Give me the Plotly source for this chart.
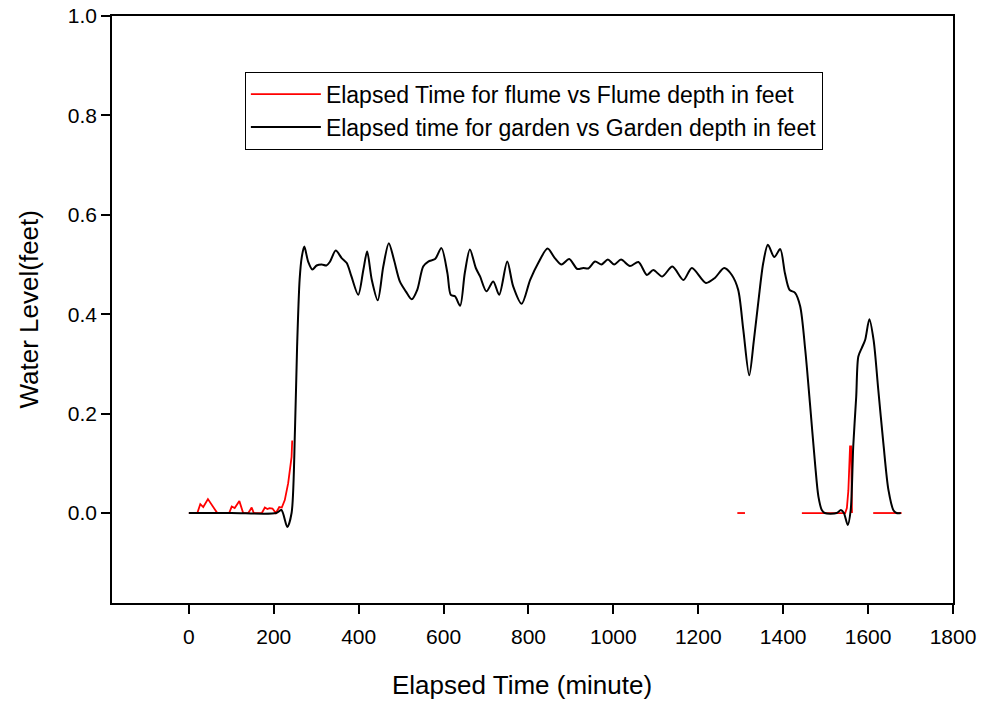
import plotly.graph_objects as go

# Garden depth (black) - elapsed time in minutes vs depth in feet
garden_t = [0, 100, 206, 218, 232, 242, 250, 255, 261, 266, 272, 281, 291, 301, 313, 324, 332,
            346, 360, 372, 383, 399, 411, 420, 431, 445, 458, 471, 483, 497, 511, 525, 538, 552,
            564, 580, 595, 609, 617, 627, 639, 650, 662, 676, 686, 701, 717, 731, 750, 764, 784,
            804, 823, 845, 862, 878, 896, 915, 929, 941, 957, 972, 987, 1002, 1018, 1039, 1059,
            1079, 1094, 1115, 1139, 1165, 1185, 1218, 1239, 1261, 1279, 1294, 1306, 1320, 1331,
            1342, 1353, 1364, 1379, 1393, 1404, 1415, 1428, 1440, 1452, 1463, 1475, 1483, 1491,
            1498, 1526, 1536, 1543, 1552, 1559, 1565, 1572, 1577, 1585, 1593, 1603, 1613, 1624,
            1636, 1648, 1660, 1667, 1677]
garden_d = [0, 0, 0, 0.006, -0.028, 0, 0.167, 0.335, 0.47, 0.515, 0.536, 0.506, 0.49, 0.498,
            0.5, 0.498, 0.505, 0.528, 0.513, 0.503, 0.476, 0.439, 0.489, 0.526, 0.469, 0.428,
            0.496, 0.543, 0.51, 0.466, 0.446, 0.43, 0.449, 0.496, 0.506, 0.511, 0.533, 0.483,
            0.439, 0.436, 0.417, 0.483, 0.53, 0.493, 0.476, 0.446, 0.466, 0.439, 0.506, 0.456,
            0.421, 0.469, 0.503, 0.532, 0.513, 0.5, 0.511, 0.491, 0.493, 0.492, 0.506, 0.5,
            0.51, 0.5, 0.51, 0.497, 0.505, 0.479, 0.489, 0.476, 0.496, 0.469, 0.493, 0.463,
            0.473, 0.493, 0.479, 0.449, 0.369, 0.277, 0.348, 0.429, 0.503, 0.54, 0.515, 0.531,
            0.483, 0.449, 0.443, 0.416, 0.328, 0.221, 0.1, 0.033, 0.006, 0, 0, 0.006, 0,
            -0.024, 0.006, 0.134, 0.234, 0.315, 0.332, 0.348, 0.39, 0.348, 0.248, 0.14, 0.046,
            0.005, 0, 0]

# Flume depth (red) - None marks gaps in the record
flume_t = [0, 20, 27, 34, 45, 57, 67, 95, 101, 108, 119, 128, 140, 148, 153, 172, 179, 185,
           190, 197, 205, 213, 219, 226, 234, 242, 243.5,
           None,
           1292, 1310,
           None,
           1444, 1546, 1550, 1553.5, 1557.5, 1560, 1562,
           None,
           1612, 1679]
flume_d = [0, 0, 0.018, 0.012, 0.028, 0.012, 0, 0, 0.013, 0.01, 0.024, 0, 0, 0.011, 0, 0, 0.011,
           0.008, 0.01, 0.009, 0, 0.012, 0.011, 0.026, 0.06, 0.113, 0.146,
           None,
           0, 0,
           None,
           0, 0, 0.01, 0.045, 0.134, 0.134, 0,
           None,
           0, 0]

FONT = "Liberation Sans, Arial, sans-serif"

fig = go.Figure()

fig.add_trace(go.Scatter(x=flume_t, y=flume_d, mode='lines',
                         name='Elapsed Time for flume vs Flume depth in feet',
                         line=dict(color='red', width=1.8), connectgaps=False))
fig.add_trace(go.Scatter(x=garden_t, y=garden_d, mode='lines',
                         name='Elapsed time for garden vs Garden depth in feet',
                         line=dict(color='black', width=2, shape='spline', smoothing=0.8)))

fig.update_layout(
    width=983, height=703,
    margin=dict(l=112, r=30, t=16, b=100),
    paper_bgcolor='white', plot_bgcolor='white',
    font=dict(family=FONT, color='black', size=21),
    showlegend=True,
    legend=dict(x=0.158, y=0.905, xanchor='left', yanchor='top',
                bordercolor='black', borderwidth=1, bgcolor='white',
                font=dict(size=23), itemwidth=70, traceorder='normal'),
    xaxis=dict(range=[-181, 1800], tickvals=list(range(0, 1801, 200)),
               showline=True, linecolor='black', linewidth=1.5, mirror=True,
               ticks='outside', ticklen=9, tickcolor='black', tickwidth=1.5,
               showgrid=False, zeroline=False, ticklabelstandoff=5, automargin=False,
               ticklabeloverflow='allow'),
    yaxis=dict(range=[-0.181, 1.0], tickvals=[0, 0.2, 0.4, 0.6, 0.8, 1.0], tickformat='.1f',
               showline=True, linecolor='black', linewidth=1.5, mirror=True,
               ticks='outside', ticklen=9, tickcolor='black', tickwidth=1.5,
               showgrid=False, zeroline=False, ticklabelstandoff=0, automargin=False,
               ticklabeloverflow='allow'),
)

# axis titles placed as annotations for exact positioning
fig.add_annotation(text='Elapsed Time (minute)', xref='paper', yref='paper',
                   x=0.4875, y=-0.1397, xanchor='center', yanchor='middle',
                   showarrow=False, font=dict(size=26))
fig.add_annotation(text='Water Level(feet)', xref='paper', yref='paper',
                   x=-0.0987, y=0.5, xanchor='center', yanchor='middle', textangle=-90,
                   showarrow=False, font=dict(size=26))

# drop the default page margin so the figure sits at the window's corner
fig.write_html("out.html", config={'displayModeBar': False},
               post_script="document.body.style.margin='0';")
